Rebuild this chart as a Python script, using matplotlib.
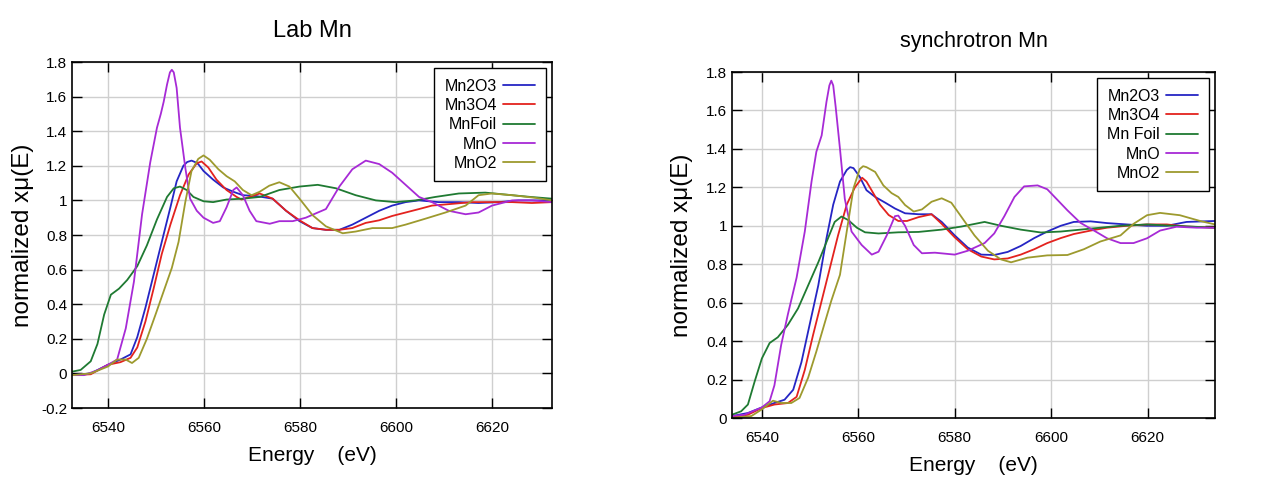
import matplotlib
matplotlib.use("Agg")
import matplotlib.pyplot as plt

# ---------------- data ----------------
series_names = ["Mn2O3", "Mn3O4", "MnFoil", "MnO", "MnO2"]
legend_left = ["Mn2O3", "Mn3O4", "MnFoil", "MnO", "MnO2"]
legend_right = ["Mn2O3", "Mn3O4", "Mn Foil", "MnO", "MnO2"]
colors = ["#2525c4", "#e3221e", "#1f7a32", "#a72ad6", "#9d9a2e"]

x_ticks = [6540, 6560, 6580, 6600, 6620]
x_tick_labels = ["6540", "6560", "6580", "6600", "6620"]
y_ticks_left = [-0.2, 0, 0.2, 0.4, 0.6, 0.8, 1.0, 1.2, 1.4, 1.6, 1.8]
y_tick_labels_left = ["-0.2", "0", "0.2", "0.4", "0.6", "0.8", "1", "1.2", "1.4", "1.6", "1.8"]
y_ticks_right = [0, 0.2, 0.4, 0.6, 0.8, 1.0, 1.2, 1.4, 1.6, 1.8]
y_tick_labels_right = ["0", "0.2", "0.4", "0.6", "0.8", "1", "1.2", "1.4", "1.6", "1.8"]

# ---- Lab Mn ----
lab_mn2o3_e = [6532.5, 6536.4, 6540, 6542.6, 6544.7, 6546.1, 6547.8, 6549.5, 6551.2, 6553.0, 6554.3,
               6555.7, 6556.5, 6557.4, 6558.1, 6558.8, 6559.9, 6561.9, 6564.0, 6566.1, 6568.1, 6570.9,
               6574.3, 6577.1, 6579.9, 6582.6, 6585.4, 6588.2, 6590.9, 6593.7, 6596.5, 6599.2, 6602.0,
               6604.8, 6608.9, 6613.1, 6617.2, 6621.4, 6625.5, 6632.5]
lab_mn2o3_mu = [-0.01, 0.0, 0.05, 0.08, 0.11, 0.21, 0.38, 0.57, 0.76, 0.96, 1.11,
                1.20, 1.222, 1.23, 1.222, 1.21, 1.17, 1.12, 1.075, 1.05, 1.03, 1.025,
                1.01, 0.94, 0.88, 0.84, 0.83, 0.83, 0.86, 0.90, 0.94, 0.97, 0.99,
                1.0, 0.99, 0.99, 0.985, 0.99, 1.0, 1.0]

lab_mn3o4_e = [6532.5, 6536.4, 6540, 6542.6, 6544.7, 6546.1, 6547.8, 6549.5, 6551.2, 6553.0, 6555.0,
               6556.8, 6558.5, 6559.5, 6560.9, 6562.6, 6564.7, 6566.8, 6567.8, 6569.5, 6571.6, 6574.3,
               6577.1, 6579.9, 6582.6, 6585.4, 6588.2, 6590.9, 6593.7, 6596.5, 6599.2, 6602.0, 6604.8,
               6607.5, 6611.7, 6615.8, 6620.0, 6624.2, 6628.3, 6632.5]
lab_mn3o4_mu = [-0.01, -0.005, 0.05, 0.065, 0.09, 0.15, 0.30, 0.49, 0.69, 0.86, 1.03,
                1.15, 1.215, 1.225, 1.19, 1.12, 1.06, 1.02, 1.005, 1.02, 1.04, 1.01,
                0.94, 0.885, 0.84, 0.83, 0.83, 0.84, 0.87, 0.885, 0.91, 0.93, 0.95,
                0.97, 0.98, 0.99, 0.99, 0.99, 0.985, 0.99]

lab_mnfoil_e = [6532.5, 6534.3, 6536.4, 6537.8, 6539.2, 6540.6, 6542.3, 6544.0, 6546.1, 6548.1, 6550.2,
                6552.3, 6553.7, 6555.0, 6556.4, 6557.8, 6559.9, 6561.9, 6564.7, 6568.1, 6571.6, 6575.7,
                6579.9, 6583.7, 6587.5, 6591.6, 6595.8, 6599.9, 6604.1, 6608.2, 6613.1, 6618.6, 6624.2,
                6628.0, 6632.5]
lab_mnfoil_mu = [0.01, 0.02, 0.07, 0.17, 0.34, 0.455, 0.49, 0.54, 0.62, 0.74, 0.89,
                 1.02, 1.07, 1.08, 1.06, 1.02, 0.995, 0.99, 1.005, 1.01, 1.02, 1.06,
                 1.08, 1.09, 1.07, 1.03, 1.0, 0.99, 1.0, 1.02, 1.04, 1.045, 1.03,
                 1.02, 1.01]

lab_mno_e = [6532.5, 6535, 6538, 6540, 6541.9, 6543.7, 6545.4, 6547.1, 6548.8, 6550.2, 6551.0,
             6551.6, 6552.3, 6552.9, 6553.3, 6553.7, 6554.3, 6555.0, 6556.1, 6557.1, 6558.5, 6559.9,
             6561.9, 6563.3, 6564.7, 6566.1, 6566.8, 6568.1, 6569.5, 6570.9, 6573.7, 6575.7, 6578.5,
             6581.2, 6585.4, 6588.2, 6590.9, 6593.7, 6596.5, 6599.2, 6602.0, 6604.8, 6607.5, 6611.0,
             6614.5, 6617.2, 6620.0, 6624.2, 6628.3, 6632.5]
lab_mno_mu = [-0.01, -0.01, 0.02, 0.05, 0.08, 0.26, 0.53, 0.92, 1.22, 1.42, 1.50,
              1.57, 1.67, 1.74, 1.755, 1.74, 1.65, 1.42, 1.19, 1.01, 0.94, 0.90,
              0.87, 0.88, 0.96, 1.06, 1.075, 1.03, 0.94, 0.88, 0.865, 0.88, 0.88,
              0.90, 0.95, 1.08, 1.18, 1.23, 1.21, 1.16, 1.09, 1.02, 0.99, 0.94,
              0.92, 0.93, 0.97, 1.0, 1.0, 0.99]

lab_mno2_e = [6532.5, 6536.4, 6540, 6541.9, 6543.7, 6545.0, 6546.4, 6548.1, 6549.9, 6551.6, 6553.3,
              6554.7, 6556.1, 6557.4, 6558.8, 6559.9, 6561.2, 6563.0, 6564.7, 6566.4, 6568.1, 6569.9,
              6571.6, 6573.6, 6575.7, 6577.8, 6579.9, 6582.6, 6585.4, 6588.9, 6591.6, 6595.1, 6599.2,
              6602.0, 6606.2, 6610.3, 6614.5, 6617.2, 6620.0, 6624.2, 6629.0, 6632.5]
lab_mno2_mu = [-0.01, 0.0, 0.04, 0.08, 0.08, 0.06, 0.09, 0.20, 0.34, 0.475, 0.61,
               0.76, 0.99, 1.17, 1.24, 1.26, 1.235, 1.18, 1.14, 1.11, 1.06, 1.03,
               1.05, 1.085, 1.105, 1.08, 1.01, 0.915, 0.85, 0.81, 0.82, 0.84, 0.84,
               0.86, 0.895, 0.93, 0.97, 1.03, 1.04, 1.03, 1.015, 1.0]

# ---- synchrotron Mn ----
syn_mn2o3_e = [6533.8, 6537.1, 6540, 6542.6, 6544.7, 6546.5, 6548.2, 6549.9, 6551.7, 6553.4, 6554.8,
               6556.2, 6557.6, 6558.3, 6559.0, 6560.3, 6561.7, 6563.5, 6565.6, 6567.6, 6569.7, 6572.5,
               6575.2, 6577.3, 6580.0, 6582.7, 6585.5, 6588.2, 6591.0, 6593.7, 6596.5, 6599.2, 6602.0,
               6604.7, 6608.2, 6611.6, 6615.7, 6619.9, 6624.0, 6628.1, 6634.0]
syn_mn2o3_mu = [0.01, 0.026, 0.055, 0.078, 0.095, 0.147, 0.29, 0.485, 0.69, 0.935, 1.11,
                1.23, 1.29, 1.305, 1.30, 1.255, 1.185, 1.15, 1.12, 1.09, 1.065, 1.06,
                1.06, 1.02, 0.95, 0.887, 0.85, 0.848, 0.864, 0.895, 0.936, 0.97, 1.0,
                1.02, 1.023, 1.014, 1.007, 1.0, 1.0, 1.02, 1.025]

syn_mn3o4_e = [6533.8, 6537.1, 6540, 6542.6, 6545.4, 6547.2, 6548.9, 6550.6, 6552.4, 6554.1, 6555.8,
               6557.6, 6559.3, 6560.8, 6561.7, 6563.1, 6564.5, 6566.3, 6568.3, 6570.1, 6572.5, 6575.2,
               6577.3, 6580.0, 6582.7, 6585.5, 6588.2, 6591.0, 6593.7, 6596.5, 6599.2, 6602.0, 6604.7,
               6608.2, 6611.6, 6615.7, 6619.9, 6624.0, 6628.1, 6634.0]
syn_mn3o4_mu = [0.003, 0.017, 0.052, 0.07, 0.078, 0.11, 0.25, 0.43, 0.61, 0.78, 0.95,
                1.11, 1.20, 1.25, 1.23, 1.17, 1.11, 1.056, 1.025, 1.025, 1.045, 1.06,
                1.01, 0.94, 0.878, 0.84, 0.825, 0.83, 0.85, 0.878, 0.91, 0.936, 0.957,
                0.975, 0.99, 1.0, 1.007, 1.007, 0.996, 0.99]

syn_mnfoil_e = [6533.8, 6535.7, 6537.1, 6538.5, 6540, 6541.6, 6543.3, 6545.4, 6547.5, 6549.6, 6551.7,
                6553.8, 6555.1, 6556.5, 6557.9, 6559.7, 6561.4, 6564.2, 6568.3, 6572.5, 6577.3, 6581.4,
                6586.2, 6589.6, 6593.7, 6597.9, 6602.0, 6606.1, 6610.2, 6614.4, 6619.9, 6625.4, 6634.0]
syn_mnfoil_mu = [0.017, 0.035, 0.07, 0.19, 0.31, 0.39, 0.42, 0.485, 0.57, 0.69, 0.81,
                 0.94, 1.02, 1.048, 1.03, 0.99, 0.966, 0.96, 0.966, 0.968, 0.98, 0.996,
                 1.02, 1.0, 0.98, 0.965, 0.97, 0.98, 0.99, 1.0, 1.007, 1.0, 0.99]

syn_mno_e = [6533.8, 6536.4, 6540, 6541.6, 6542.6, 6544.0, 6545.4, 6547.2, 6548.9, 6550.3, 6551.3,
             6552.4, 6553.4, 6554.0, 6554.4, 6554.8, 6555.3, 6556.2, 6557.2, 6558.6, 6560.7, 6562.8,
             6564.2, 6565.9, 6567.6, 6568.3, 6569.7, 6571.5, 6573.2, 6575.9, 6580.0, 6582.7, 6586.2,
             6588.2, 6590.3, 6592.4, 6594.4, 6597.2, 6599.2, 6601.3, 6603.4, 6606.1, 6608.9, 6611.6,
             6614.4, 6617.1, 6619.9, 6622.6, 6626.0, 6630.2, 6634.0]
syn_mno_mu = [0.01, 0.017, 0.055, 0.087, 0.17, 0.38, 0.54, 0.73, 0.97, 1.23, 1.385,
              1.47, 1.645, 1.73, 1.755, 1.73, 1.62, 1.40, 1.14, 0.97, 0.90, 0.85,
              0.865, 0.95, 1.05, 1.053, 1.0, 0.90, 0.857, 0.86, 0.85, 0.87, 0.91,
              0.96, 1.05, 1.15, 1.205, 1.21, 1.19, 1.135, 1.08, 1.015, 0.975, 0.935,
              0.91, 0.91, 0.935, 0.975, 0.995, 0.99, 0.99]

syn_mno2_e = [6533.8, 6537.8, 6540, 6542.3, 6544.0, 6546.1, 6547.8, 6549.6, 6551.3, 6553.1, 6554.4,
              6556.2, 6557.6, 6559.0, 6560.3, 6561.0, 6561.7, 6563.5, 6565.2, 6566.9, 6568.3, 6569.7,
              6571.5, 6573.2, 6575.2, 6577.3, 6579.3, 6581.4, 6584.1, 6586.9, 6589.6, 6591.7, 6595.1,
              6599.2, 6603.4, 6606.8, 6610.2, 6614.4, 6617.1, 6619.9, 6622.6, 6626.7, 6630.9, 6634.0]
syn_mno2_mu = [0.0, 0.01, 0.045, 0.09, 0.078, 0.078, 0.104, 0.21, 0.346, 0.50, 0.61,
               0.745, 0.97, 1.195, 1.295, 1.31, 1.305, 1.28, 1.21, 1.17, 1.15, 1.108,
               1.074, 1.085, 1.125, 1.143, 1.12, 1.046, 0.95, 0.87, 0.825, 0.81, 0.834,
               0.846, 0.848, 0.878, 0.918, 0.95, 1.01, 1.055, 1.067, 1.055, 1.025, 1.007]

# ---------------- styling ----------------
FONT = ["Liberation Sans", "DejaVu Sans"]
plt.rcParams["font.family"] = FONT

fig = plt.figure(figsize=(12.61, 4.98), dpi=100)
ax_l = fig.add_axes([72 / 1261, 1 - 408 / 498, 480 / 1261, 346 / 498])
ax_r = fig.add_axes([732 / 1261, 1 - 418 / 498, 483 / 1261, 346 / 498])


def draw_panel(ax, curves, labels, title, title_size, xlim, ylim, yticks, yticklabels):
    for (e, mu), lab, c in zip(curves, labels, colors):
        ax.plot(e, mu, color=c, lw=1.3, label=lab,
                solid_joinstyle="round", solid_capstyle="round")
    ax.set_xlim(*xlim)
    ax.set_ylim(*ylim)
    ax.set_xticks(x_ticks)
    ax.set_xticklabels(x_tick_labels)
    ax.set_yticks(yticks)
    ax.set_yticklabels(yticklabels)
    ax.set_axisbelow(True)
    ax.grid(True, color="#cfcfcf", lw=1.0)
    ax.tick_params(direction="in", top=True, right=True, length=7, width=1,
                   labelsize=11, colors="black")
    ax.tick_params(axis="x", pad=9)
    ax.tick_params(axis="y", pad=3.5)
    for s in ax.spines.values():
        s.set_linewidth(1.2)
        s.set_color("black")
    ax.set_title(title, fontsize=title_size, pad=18)
    ax.set_xlabel("Energy    (eV)", fontsize=15)
    ax.xaxis.set_label_coords(0.5, -0.11)
    ax.set_ylabel("normalized xμ(E)", fontsize=17.5)
    ax.yaxis.set_label_coords(-0.08, 0.5)
    leg = ax.legend(loc="upper right", markerfirst=False, fancybox=False,
                    edgecolor="black", framealpha=1, fontsize=11.5,
                    borderaxespad=0.4, borderpad=0.65, labelspacing=0.27,
                    handlelength=2.0, handletextpad=0.4)
    leg.get_frame().set_linewidth(1.0)


lab_curves = [(lab_mn2o3_e, lab_mn2o3_mu), (lab_mn3o4_e, lab_mn3o4_mu),
              (lab_mnfoil_e, lab_mnfoil_mu), (lab_mno_e, lab_mno_mu),
              (lab_mno2_e, lab_mno2_mu)]
syn_curves = [(syn_mn2o3_e, syn_mn2o3_mu), (syn_mn3o4_e, syn_mn3o4_mu),
              (syn_mnfoil_e, syn_mnfoil_mu), (syn_mno_e, syn_mno_mu),
              (syn_mno2_e, syn_mno2_mu)]

draw_panel(ax_l, lab_curves, legend_left, "Lab Mn", 17, (6532.5, 6632.5), (-0.2, 1.8),
           y_ticks_left, y_tick_labels_left)
draw_panel(ax_r, syn_curves, legend_right, "synchrotron Mn", 15.5, (6533.8, 6634.0), (0, 1.8),
           y_ticks_right, y_tick_labels_right)

fig.savefig("out.png", dpi=100, facecolor="white")
